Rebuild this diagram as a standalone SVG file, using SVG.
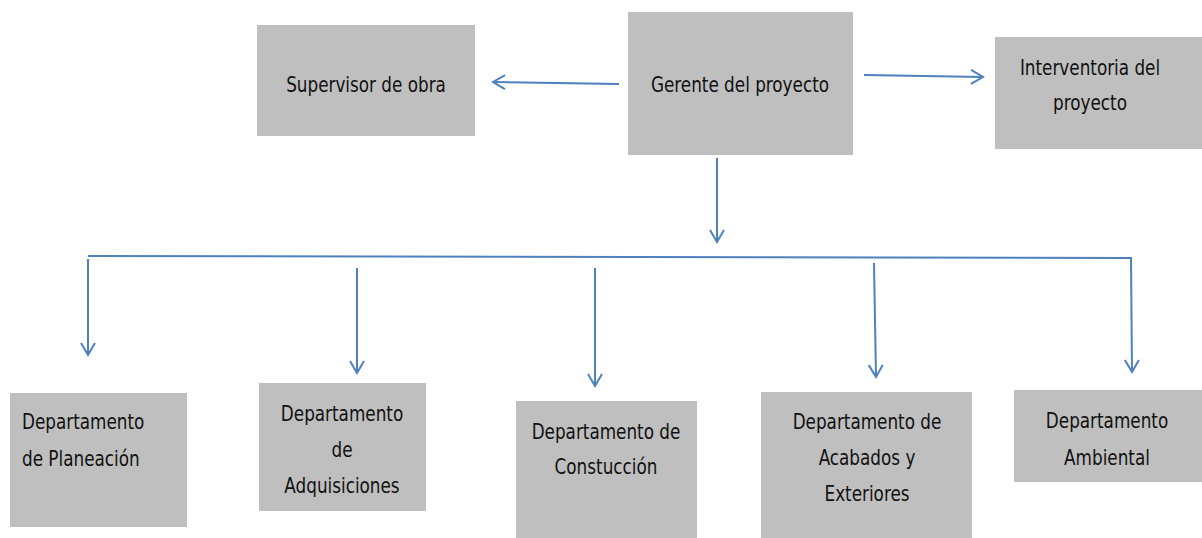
<svg xmlns="http://www.w3.org/2000/svg" width="1202" height="538" viewBox="0 0 1202 538">
<style>
.box{fill:#bfbfbf;}
.t{font-family:"DejaVu Sans Condensed","Liberation Sans",sans-serif;font-size:22px;fill:#111;text-anchor:middle;}
.l{text-anchor:start;}
.c{fill:none;stroke:#4f81bd;stroke-width:2;}
</style>
<defs>
<marker id="a" markerUnits="userSpaceOnUse" markerWidth="20" markerHeight="20" refX="14" refY="10" orient="auto">
<path d="M2,3 L14,10 L2,17" fill="none" stroke="#4f81bd" stroke-width="2"/>
</marker>
</defs>
<rect width="1202" height="538" fill="#fff"/>
<g id="connectors">
<line class="c" x1="619" y1="84" x2="493" y2="82" marker-end="url(#a)"/>
<line class="c" x1="864" y1="75" x2="983" y2="77" marker-end="url(#a)"/>
<line class="c" x1="717" y1="158" x2="717" y2="242" marker-end="url(#a)"/>
<polyline class="c" points="88,256 1131,258 1132,372" marker-end="url(#a)"/>
<line class="c" x1="88" y1="259" x2="88" y2="355" marker-end="url(#a)"/>
<line class="c" x1="357" y1="268" x2="357" y2="373" marker-end="url(#a)"/>
<line class="c" x1="595" y1="268" x2="595" y2="386" marker-end="url(#a)"/>
<line class="c" x1="874" y1="263" x2="876" y2="377" marker-end="url(#a)"/>
</g>
<g id="supervisor"><rect class="box" x="257" y="25" width="218" height="111"/><text class="t" transform="translate(366 92) scale(0.85 1)">Supervisor de obra</text></g>
<g id="gerente"><rect class="box" x="628" y="12" width="225" height="143"/><text class="t" transform="translate(740 92) scale(0.85 1)">Gerente del proyecto</text></g>
<g id="interventoria"><rect class="box" x="995" y="37" width="207" height="112"/><text class="t" transform="translate(1090 75) scale(0.85 1)">Interventoria del</text><text class="t" transform="translate(1090 110) scale(0.85 1)">proyecto</text></g>
<g id="planeacion"><rect class="box" x="10" y="393" width="177" height="134"/><text class="t l" transform="translate(22 429) scale(0.85 1)">Departamento</text><text class="t l" transform="translate(22 466) scale(0.85 1)">de Planeación</text></g>
<g id="adquisiciones"><rect class="box" x="259" y="383" width="167" height="128"/><text class="t" transform="translate(342 421) scale(0.85 1)">Departamento</text><text class="t" transform="translate(342 457) scale(0.85 1)">de</text><text class="t" transform="translate(342 493) scale(0.85 1)">Adquisiciones</text></g>
<g id="construccion"><rect class="box" x="516" y="401" width="181" height="137"/><text class="t" transform="translate(606 439) scale(0.85 1)">Departamento de</text><text class="t" transform="translate(606 474) scale(0.85 1)">Constucción</text></g>
<g id="acabados"><rect class="box" x="761" y="392" width="211" height="146"/><text class="t" transform="translate(867 429) scale(0.85 1)">Departamento de</text><text class="t" transform="translate(867 465) scale(0.85 1)">Acabados y</text><text class="t" transform="translate(867 501) scale(0.85 1)">Exteriores</text></g>
<g id="ambiental"><rect class="box" x="1014" y="390" width="188" height="92"/><text class="t" transform="translate(1107 428) scale(0.85 1)">Departamento</text><text class="t" transform="translate(1107 465) scale(0.85 1)">Ambiental</text></g>
</svg>
